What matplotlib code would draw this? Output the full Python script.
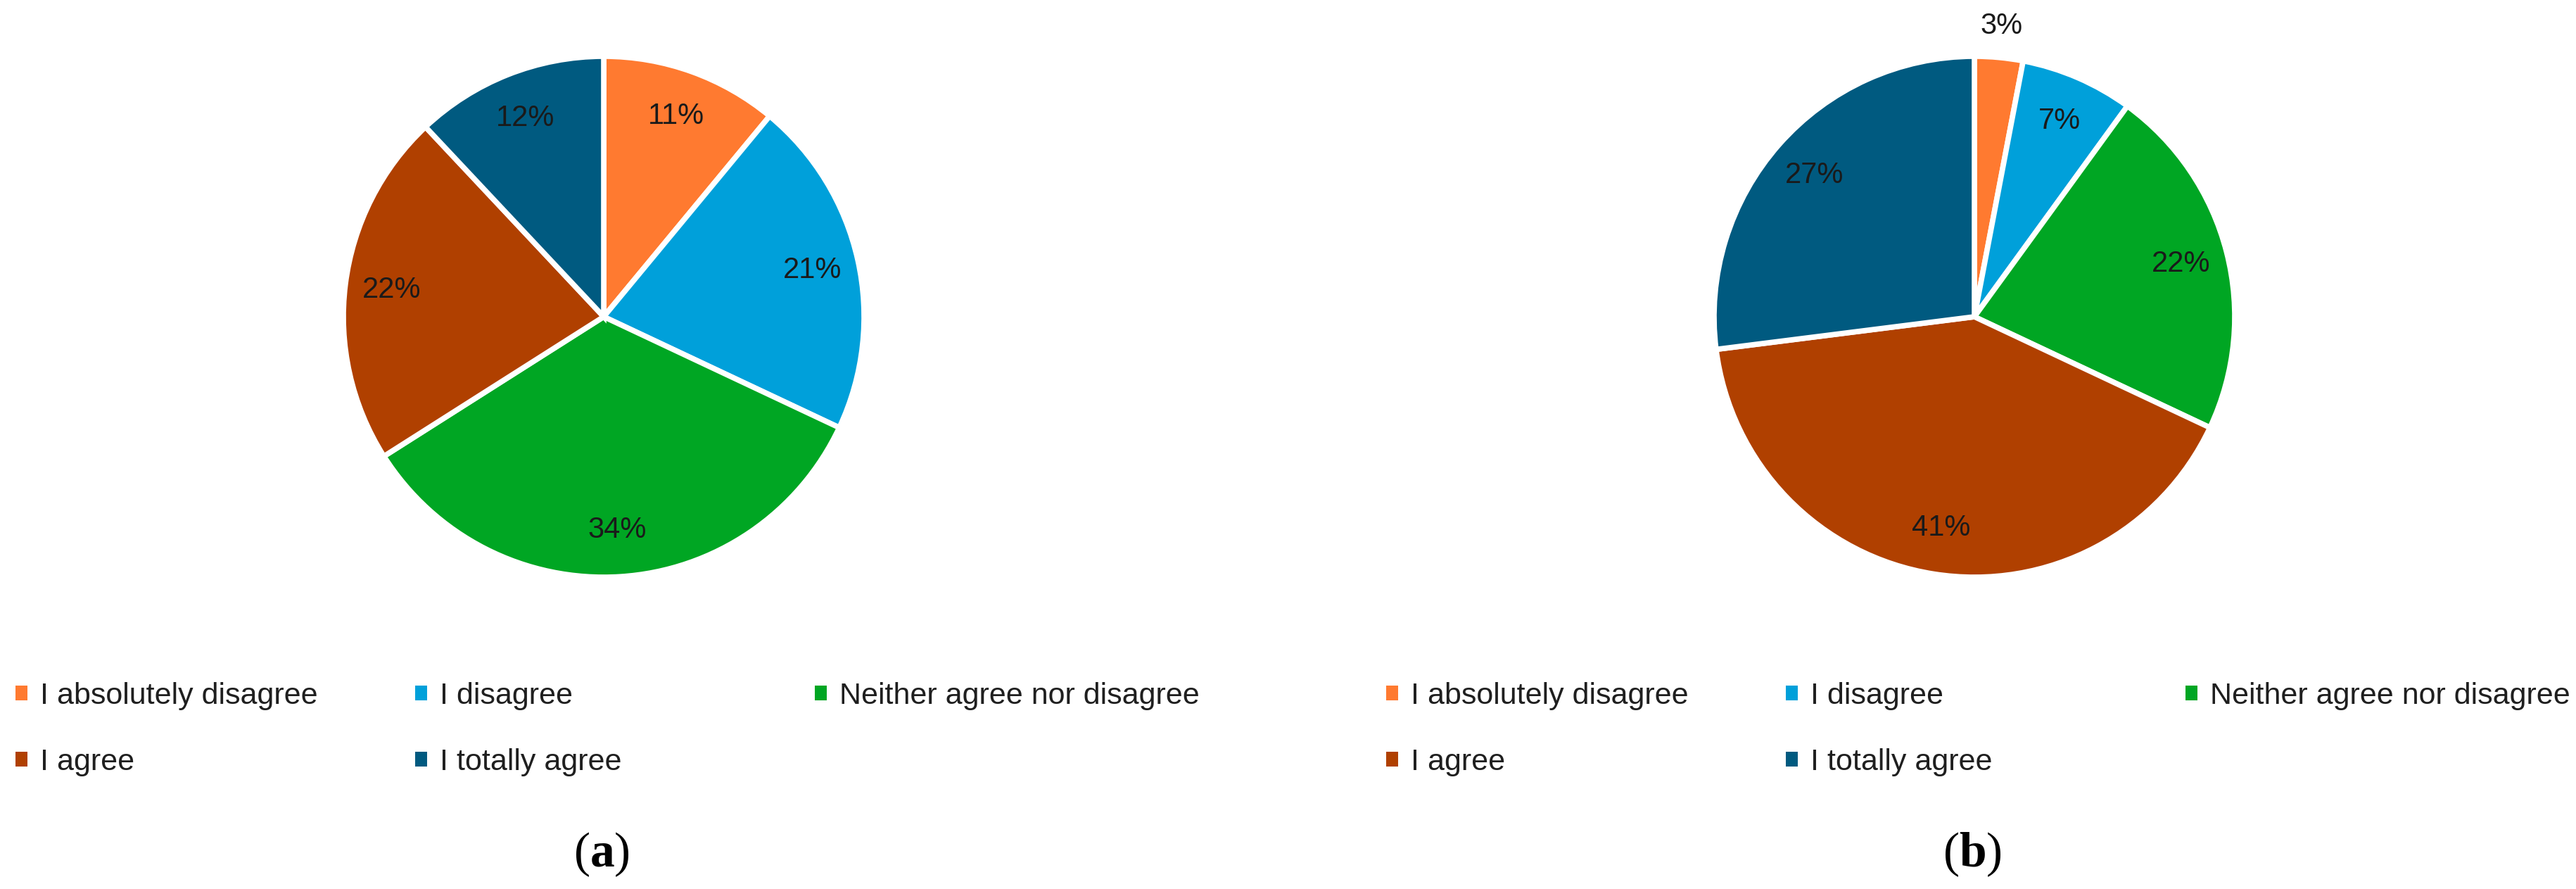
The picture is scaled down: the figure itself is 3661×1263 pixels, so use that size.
"""
  Two pie charts of survey answers, (a) and (b)
"""
import matplotlib.pyplot as plt
from matplotlib.patches import Patch
import numpy as np

plt.rcParams['mathtext.fontset'] = 'custom'
plt.rcParams['mathtext.rm'] = 'Liberation Serif'
plt.rcParams['mathtext.bf'] = 'Liberation Serif:bold'

answers = ['I absolutely disagree', 'I disagree', 'Neither agree nor disagree',
           'I agree', 'I totally agree']
shares_a = [11, 21, 34, 22, 12]
shares_b = [3, 7, 22, 41, 27]
panel_tags = ['a', 'b']

colors = ['#FF7A30', '#00A0DA', '#00A623', '#B04000', '#005A80']

W, H = 3661, 1263

################################################################################
# One pie with its legend

def plotPie(fig, shares, tag, x0):
  """ plotPie : Figure int[] String float -> None
  x0 is the left edge of the panel in pixels
  """
  cx, cy, rad = x0 + 858, 450, 370
  ax = fig.add_axes([(cx-rad)/W, (H-cy-rad)/H, 2*rad/W, 2*rad/H])
  wedges, texts, autotexts = ax.pie(shares, colors=colors, startangle=90,
        counterclock=False, autopct='%1.0f%%', pctdistance=0.82,
        wedgeprops=dict(edgecolor='white', linewidth=5.5),
        textprops=dict(fontsize=30, color='#1a1a1a', family='Liberation Sans'))
  # small slices get their label outside
  for w, t, s in zip(wedges, autotexts, shares):
    if s < 5:
      ang = np.deg2rad((w.theta1 + w.theta2)/2)
      t.set_position((1.12*np.cos(ang), 1.12*np.sin(ang)))
  ax.set_xlim(-1, 1)
  ax.set_ylim(-1, 1)
  ax.axis('off')

  # legend in three columns of fixed width
  handles = [Patch(facecolor=c) for c in colors]
  cols = [[0, 3], [1, 4], [2]]
  for k, idx in enumerate(cols):
    lx = x0 + 22 + 568*k
    fig.legend([handles[i] for i in idx], [answers[i] for i in idx],
          loc='upper left', bbox_to_anchor=(lx/W, (H-969)/H),
          frameon=False, borderpad=0, borderaxespad=0,
          handlelength=0.4, handleheight=0.4, handletextpad=0.42,
          labelspacing=1.25,
          prop=dict(family='Liberation Sans', size=31), labelcolor='#1f1f1f')

  fig.text((x0 + 855)/W, (H-1214)/H, r'$\mathrm{(}\mathbf{%s}\mathrm{)}$' % tag,
        ha='center', va='center', fontsize=50)


fig = plt.figure(figsize=(W/100, H/100), dpi=100)
plotPie(fig, shares_a, panel_tags[0], 0)
plotPie(fig, shares_b, panel_tags[1], 1948)
plt.savefig('out.png', dpi=100)
